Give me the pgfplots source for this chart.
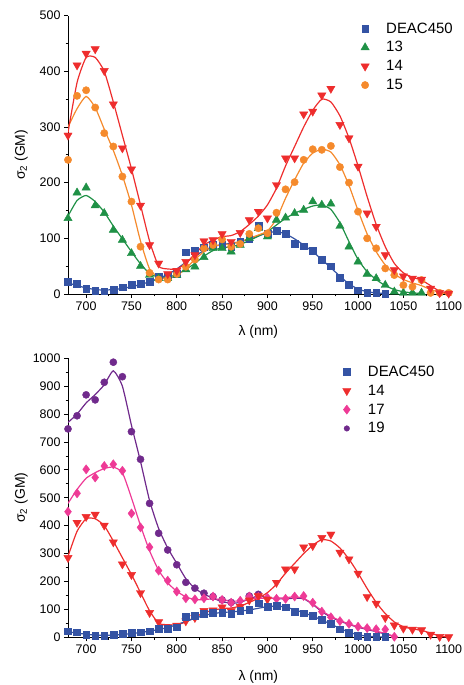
\documentclass[border=0pt]{standalone}
\usepackage{pgfplots}
\pgfplotsset{compat=1.18}
\usepackage{fontspec}
\setmainfont{Liberation Sans}
\definecolor{deacblue}{HTML}{3453A4}
\definecolor{grn}{HTML}{1F9146}
\definecolor{rd}{HTML}{EE2D2D}
\definecolor{orn}{HTML}{F58A2C}
\definecolor{pnk}{HTML}{EE3A96}
\definecolor{prp}{HTML}{702A8C}
\pgfplotsset{
  myaxis/.style={
    scale only axis, width=380.7bp,
    xmin=680, xmax=1100,
    axis x line=bottom, axis y line=left,
    axis line style={-, line width=0.8bp},
    tick align=outside, xtick pos=bottom, ytick pos=left,
    major tick length=4bp, minor tick length=2.5bp,
    every tick/.style={black, line width=0.8bp},
    xtick={700,750,...,1100},
    minor x tick num=1, minor y tick num=1,
    /pgf/number format/assume math mode=true,
    /pgf/number format/1000 sep={},
    tick label style={font=\fontsize{12.5}{14}\selectfont},
    label style={font=\fontsize{14}{16}\selectfont},
    xlabel={λ (nm)},
    ylabel={σ\textsubscript{2} (GM)},
    ylabel style={at={(axis description cs:-0.123,0.5)}, anchor=center, rotate=0},
    legend cell align=left,
    legend style={draw=none, fill=none, inner sep=0pt, row sep=3bp, font=\fontsize{15}{18}\selectfont,
      /tikz/every odd column/.append style={column sep=15bp}},
    fitline/.style={no marks, smooth, tension=0.35, line width=1.2bp, forget plot},
    pts/.style={only marks, forget plot},
  }
}
\begin{document}
\begin{tikzpicture}[x=1bp,y=1bp]
\useasboundingbox (0,0) rectangle (464,685);
% ---------------- panel a ----------------
\begin{axis}[myaxis, at={(68bp,391bp)}, anchor=south west, height=278.3bp,
  ymin=0, ymax=500, ytick={0,100,...,500},
  xlabel style={at={(axis description cs:0.5,-0.137)}, anchor=center},
  legend style={at={(0.769,0.983)}, anchor=north west}]
\addlegendimage{only marks, mark=square*, mark size=3.4, color=deacblue}
\addlegendentry{DEAC450}
\addlegendimage{only marks, mark=triangle*, mark size=4.8, color=grn}
\addlegendentry{13}
\addlegendimage{only marks, mark=triangle*, mark size=4.8, mark options={rotate=180}, color=rd}
\addlegendentry{14}
\addlegendimage{only marks, mark=*, mark size=3.7, color=orn}
\addlegendentry{15}
% fit lines
\addplot[fitline, color=deacblue] coordinates {(680,20)(690,15)(700,11)(710,8)(720,7)(730,8)(740,10)(750,13)(760,17)(770,22)(780,28)(790,35)(800,45)(810,57)(820,68)(830,78)(840,85)(850,89)(860,91)(870,94)(880,98)(890,104)(900,110)(910,112)(920,108)(930,99)(940,88)(950,76)(960,62)(970,47)(980,32)(990,18)(1000,9)(1010,4)(1020,2)(1030,1)};
\addplot[fitline, color=grn] coordinates {(680,140)(690,168)(700,177)(710,166)(720,147)(730,122)(740,99)(750,76)(760,54)(770,37)(780,30)(790,30)(800,35)(810,44)(820,55)(830,68)(840,78)(850,83)(860,85)(870,89)(880,96)(890,104)(900,112)(910,124)(920,136)(930,145)(940,152)(950,158)(960,160)(970,152)(980,128)(990,94)(1000,62)(1010,40)(1020,26)(1030,15)(1040,8)(1050,4)(1060,2)(1070,1)};
\addplot[fitline, color=orn] coordinates {(680,300)(690,333)(700,355)(710,335)(720,296)(730,258)(740,213)(750,160)(760,95)(770,45)(780,30)(790,28)(800,33)(810,46)(820,62)(830,76)(840,85)(850,89)(860,90)(870,94)(880,100)(890,106)(900,113)(910,135)(920,172)(930,205)(940,235)(950,253)(960,260)(970,255)(980,232)(990,195)(1000,150)(1010,108)(1020,76)(1030,52)(1040,36)(1050,26)(1060,20)(1070,15)(1080,8)(1090,3)(1100,0)};
\addplot[fitline, color=rd] coordinates {(680,290)(690,380)(700,425)(710,425)(720,400)(730,345)(740,285)(750,225)(760,160)(770,95)(780,50)(790,45)(800,45)(810,55)(820,72)(830,88)(840,97)(850,103)(860,105)(870,112)(880,125)(890,140)(900,160)(910,190)(920,230)(930,265)(940,300)(950,330)(960,350)(970,345)(980,320)(990,280)(1000,230)(1010,175)(1020,125)(1030,85)(1040,55)(1050,38)(1060,30)(1070,25)(1080,15)(1090,5)(1100,0)};
% markers
\addplot[pts, mark=square*, mark size=3.4, color=deacblue] coordinates {(680,22)(690,18)(700,10)(710,6)(720,5)(730,8)(740,12)(750,16)(760,18)(770,22)(780,31)(790,32)(800,36)(810,75)(820,78)(830,84)(840,88)(850,88)(860,85)(870,94)(880,100)(890,122)(900,109)(910,114)(920,108)(930,91)(940,86)(950,78)(960,62)(970,50)(980,29)(990,16)(1000,7)(1010,3)(1020,2)(1030,1)};
\addplot[pts, mark=triangle*, mark size=4.8, color=grn] coordinates {(680,136)(690,182)(700,191)(710,159)(720,145)(730,115)(740,97)(750,73)(760,50)(770,34)(780,28)(790,28)(800,34)(810,44)(820,49)(830,66)(840,82)(850,82)(860,76)(870,88)(880,100)(890,118)(900,103)(910,133)(920,137)(930,145)(940,151)(950,166)(960,160)(970,162)(980,122)(990,85)(1000,58)(1010,36)(1020,28)(1030,16)(1040,4)(1050,2)(1060,2)(1070,2)};
\addplot[pts, mark=*, mark size=3.7, color=orn] coordinates {(680,241)(690,356)(700,366)(710,335)(720,289)(730,265)(740,211)(750,166)(760,85)(770,38)(780,26)(790,26)(800,36)(810,49)(820,62)(830,82)(840,88)(850,98)(860,85)(870,90)(880,108)(890,118)(900,109)(910,146)(920,188)(930,201)(940,241)(950,260)(960,259)(970,266)(980,228)(990,200)(1000,148)(1010,100)(1020,82)(1030,46)(1040,34)(1050,16)(1060,13)(1070,25)(1080,2)(1090,2)(1100,2)};
\addplot[pts, mark=triangle*, mark size=4.8, mark options={rotate=180}, color=rd] coordinates {(680,285)(690,411)(700,432)(710,440)(720,401)(730,341)(740,262)(750,224)(760,159)(770,88)(780,55)(790,36)(800,42)(810,58)(820,70)(830,95)(840,97)(850,108)(860,94)(870,110)(880,133)(890,148)(900,136)(910,196)(920,244)(930,244)(940,323)(950,328)(960,357)(970,369)(980,304)(990,280)(1000,229)(1010,145)(1020,121)(1030,70)(1040,43)(1050,32)(1060,28)(1070,26)(1080,10)(1090,2)(1100,1)};
\node[font=\fontsize{15}{18}\selectfont] at (axis description cs:-0.118,0.905) {a)};
\end{axis}
% ---------------- panel b ----------------
\begin{axis}[myaxis, at={(68bp,47.7bp)}, anchor=south west, height=279bp,
  ymin=0, ymax=1000, ytick={0,100,...,1000},
  xlabel style={at={(axis description cs:0.5,-0.142)}, anchor=center},
  legend style={at={(0.721,0.98)}, anchor=north west}]
\addlegendimage{only marks, mark=square*, mark size=3.4, color=deacblue}
\addlegendentry{DEAC450}
\addlegendimage{only marks, mark=triangle*, mark size=4.8, mark options={rotate=180}, color=rd}
\addlegendentry{14}
\addlegendimage{only marks, mark=diamond*, mark size=4.6, color=pnk}
\addlegendentry{17}
\addlegendimage{only marks, mark=*, mark size=2.8, color=prp}
\addlegendentry{19}
% fit lines
\addplot[fitline, color=prp] coordinates {(680,770)(690,800)(700,840)(710,870)(720,905)(730,955)(740,900)(750,760)(760,630)(770,490)(780,390)(790,320)(800,265)(810,210)(820,175)(830,155)(840,140)(850,128)(860,122)(870,125)(880,138)(890,148)(900,142)(910,138)(920,138)(930,140)(940,138)(950,118)(960,92)(970,72)(980,58)(990,46)(1000,36)(1010,28)(1020,20)(1030,12)(1040,3)};
\addplot[pts, mark=*, mark size=3.6, color=prp] coordinates {(680,747)(690,794)(700,869)(710,851)(720,914)(730,986)(740,934)(750,737)(760,638)(770,480)(780,373)(790,313)(800,260)(810,197)(820,176)(830,158)(840,146)(850,134)(860,125)(880,148)(890,154)};
\addplot[fitline, color=pnk] coordinates {(680,480)(690,530)(700,570)(710,590)(720,605)(730,610)(740,590)(750,500)(760,400)(770,310)(780,240)(790,195)(800,165)(810,145)(820,135)(830,135)(840,138)(850,135)(860,130)(870,130)(880,136)(890,140)(900,140)(910,140)(920,142)(930,145)(940,140)(950,120)(960,95)(970,75)(980,60)(990,48)(1000,38)(1010,30)(1020,22)(1030,14)(1040,3)};
\addplot[pts, mark=diamond*, mark size=4.6, color=pnk] coordinates {(680,450)(690,516)(700,602)(710,573)(720,614)(730,620)(740,597)(750,444)(760,394)(770,323)(780,239)(790,203)(800,164)(810,140)(820,136)(830,140)(840,146)(850,134)(860,124)(870,131)(880,146)(890,145)(900,142)(910,138)(920,138)(930,146)(940,148)(950,124)(960,92)(970,72)(980,58)(990,48)(1000,38)(1010,33)(1020,29)(1030,28)(1040,2)};
\addplot[fitline, color=rd] coordinates {(680,290)(690,380)(700,425)(710,425)(720,400)(730,345)(740,285)(750,225)(760,160)(770,95)(780,50)(790,45)(800,45)(810,55)(820,72)(830,88)(840,97)(850,103)(860,105)(870,112)(880,125)(890,140)(900,160)(910,190)(920,230)(930,265)(940,300)(950,330)(960,350)(970,345)(980,320)(990,280)(1000,230)(1010,175)(1020,125)(1030,85)(1040,55)(1050,38)(1060,30)(1070,25)(1080,15)(1090,5)(1100,0)};
\addplot[pts, mark=triangle*, mark size=4.8, mark options={rotate=180}, color=rd] coordinates {(680,285)(690,411)(700,432)(710,440)(720,401)(730,341)(740,262)(750,224)(760,159)(770,88)(780,55)(790,36)(800,42)(810,58)(820,70)(830,95)(840,97)(850,108)(860,94)(870,110)(880,133)(890,148)(900,136)(910,196)(920,244)(930,244)(940,323)(950,328)(960,357)(970,369)(980,304)(990,280)(1000,229)(1010,145)(1020,121)(1030,70)(1040,43)(1050,32)(1060,28)(1070,26)(1080,10)(1090,2)(1100,1)};
\addplot[fitline, color=deacblue] coordinates {(680,20)(690,15)(700,11)(710,8)(720,7)(730,8)(740,10)(750,13)(760,17)(770,22)(780,28)(790,35)(800,45)(810,57)(820,68)(830,78)(840,85)(850,89)(860,91)(870,94)(880,98)(890,104)(900,110)(910,112)(920,108)(930,99)(940,88)(950,76)(960,62)(970,47)(980,32)(990,18)(1000,9)(1010,4)(1020,2)(1030,1)};
\addplot[pts, mark=square*, mark size=3.4, color=deacblue] coordinates {(680,22)(690,18)(700,10)(710,6)(720,5)(730,8)(740,12)(750,16)(760,18)(770,22)(780,31)(790,32)(800,36)(810,75)(820,78)(830,84)(840,88)(850,88)(860,85)(870,94)(880,100)(890,122)(900,109)(910,114)(920,108)(930,91)(940,86)(950,78)(960,62)(970,50)(980,29)(990,16)(1000,7)(1010,3)(1020,2)(1030,1)};
\node[font=\fontsize{15}{18}\selectfont] at (axis description cs:-0.129,0.897) {b)};
\end{axis}
\end{tikzpicture}
\end{document}
